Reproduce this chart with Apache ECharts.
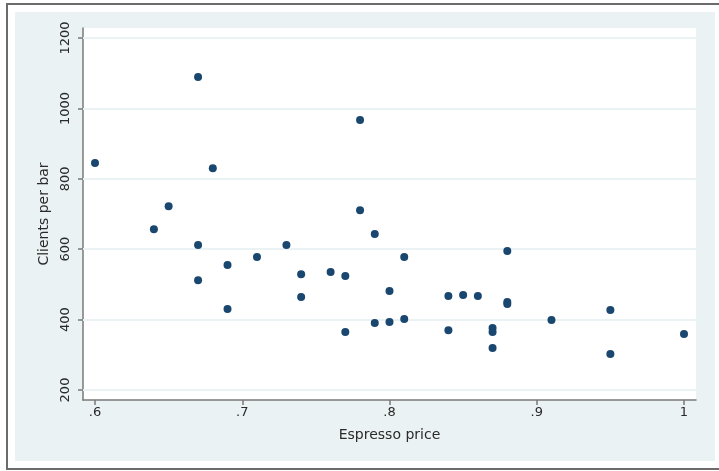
<!DOCTYPE html>
<html>
<head>
<meta charset="utf-8">
<script src="https://cdn.jsdelivr.net/npm/echarts@6/dist/echarts.min.js"></script>
<style>
  html, body { margin: 0; padding: 0; background: #fff; }
  #chart { width: 719px; height: 471px; }
</style>
</head>
<body>
<div id="chart"></div>
<script>
// espresso price vs clients per bar
const price = [0.60, 0.64, 0.65, 0.67, 0.67, 0.67, 0.68, 0.69, 0.69, 0.71,
  0.73, 0.74, 0.74, 0.76, 0.77, 0.77, 0.78, 0.78, 0.79, 0.79,
  0.80, 0.80, 0.81, 0.81, 0.84, 0.84, 0.85, 0.86, 0.87, 0.87,
  0.87, 0.88, 0.88, 0.88, 0.91, 0.95, 0.95, 1.00];
const clients = [845, 657, 722, 1089, 612, 512, 830, 555, 430, 578,
  612, 529, 464, 535, 524, 365, 967, 711, 643, 390,
  481, 393, 578, 402, 467, 370, 470, 467, 376, 365,
  319, 595, 450, 444, 399, 427, 302, 359];
const xTicks = [0.6, 0.7, 0.8, 0.9, 1.0];
const yTicks = [200, 400, 600, 800, 1000, 1200];

const chart = echarts.init(document.getElementById('chart'));
const points = price.map((p, i) => [p, clients[i]]);
const font = 'DejaVu Sans, sans-serif';
const axisCol = '#7a7a7a';

const option = {
  animation: false,
  backgroundColor: '#fff',
  graphic: [
    { type: 'rect', z: -10, shape: { x: 7, y: 4, width: 730, height: 465 },
      style: { fill: '#fff', stroke: '#6b6b6b', lineWidth: 2 } },
    { type: 'rect', z: -9, shape: { x: 15, y: 12, width: 700, height: 449 },
      style: { fill: '#eaf2f3' } }
  ],
  grid: {
    left: 83, top: 28, width: 613, height: 372,
    show: true, backgroundColor: '#fff', borderWidth: 0
  },
  xAxis: {
    type: 'value',
    min: 0.59185, max: 1.00815,
    name: 'Espresso price',
    nameLocation: 'middle',
    nameGap: 28,
    nameTextStyle: { fontFamily: font, fontSize: 14, color: '#2a2a2a' },
    axisLine: { lineStyle: { color: axisCol, width: 1.5 } },
    axisTick: { customValues: xTicks, length: 5, lineStyle: { color: axisCol, width: 1.5 } },
    axisLabel: {
      customValues: xTicks, margin: 6,
      fontFamily: font, fontSize: 13, color: '#2a2a2a',
      formatter: v => (v >= 0.999 ? '1' : String(Math.round(v * 10) / 10).replace(/^0/, ''))
    },
    splitLine: { show: false }
  },
  yAxis: {
    type: 'value',
    min: 171.6, max: 1228.4,
    name: 'Clients per bar',
    nameLocation: 'middle',
    nameGap: 32,
    nameTextStyle: { fontFamily: font, fontSize: 14, color: '#2a2a2a' },
    axisLine: { show: true, lineStyle: { color: axisCol, width: 1.5 } },
    axisTick: { show: true, customValues: yTicks, length: 5, lineStyle: { color: axisCol, width: 1.5 } },
    axisLabel: {
      customValues: yTicks, rotate: 90, margin: 11,
      fontFamily: font, fontSize: 13, color: '#2a2a2a',
      formatter: v => String(Math.round(v))
    },
    splitLine: { show: false }
  },
  series: [
    {
      type: 'scatter', data: [], z: 1, silent: true,
      markLine: {
        silent: true, symbol: 'none', animation: false,
        label: { show: false },
        lineStyle: { color: '#eaf2f3', width: 2, type: 'solid', opacity: 1 },
        data: yTicks.map(v => ({ yAxis: v }))
      }
    },
    {
      type: 'scatter', zlevel: 1, z: 3,
      symbol: 'circle', symbolSize: 8,
      itemStyle: { color: '#1a476f', opacity: 1 },
      data: points
    }
  ]
};
chart.setOption(option);
</script>
</body>
</html>
